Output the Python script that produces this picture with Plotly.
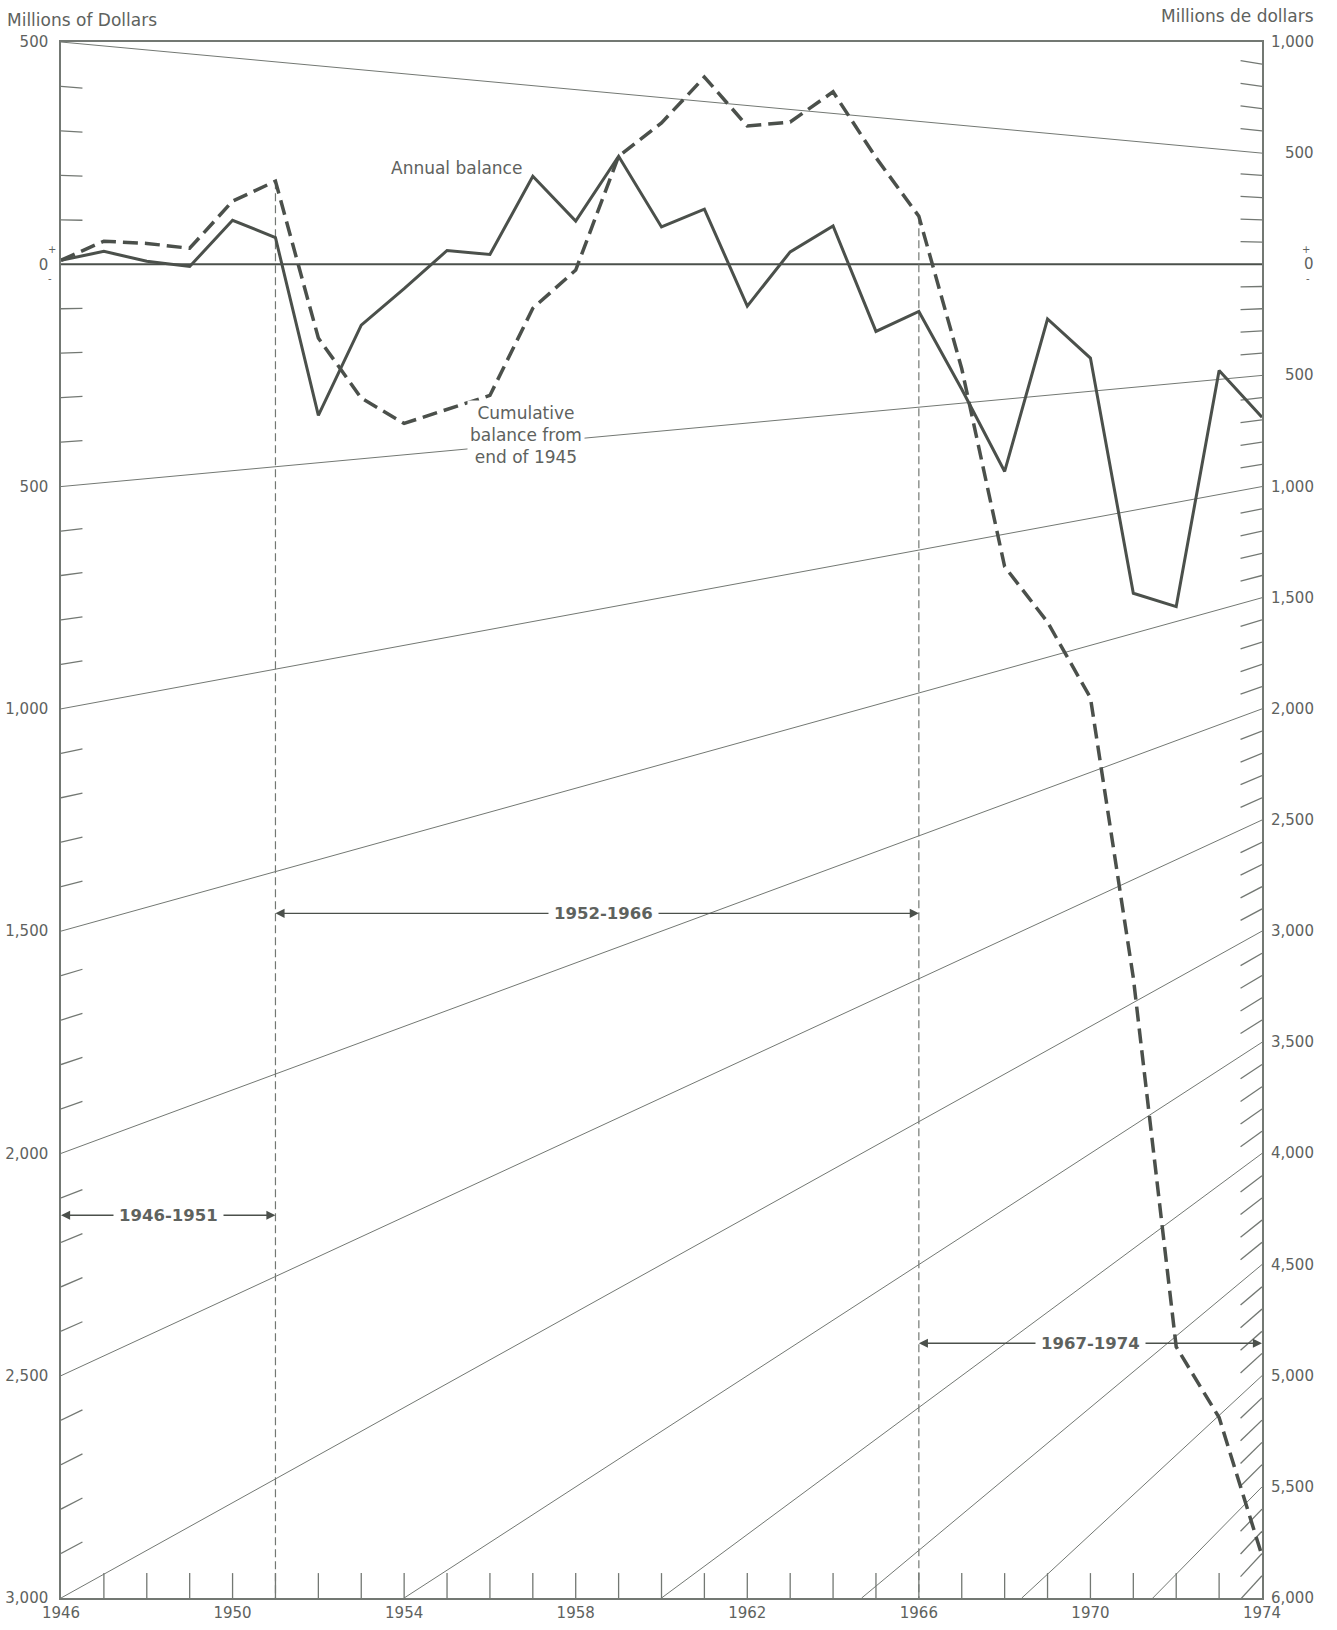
import plotly.graph_objects as go

# ---------------- data ----------------
years = list(range(1946, 1975))
annual_balance = [9, 29, 7, -5, 99, 60, -340, -137, -55, 31, 22, 198, 97, 243,
                  84, 124, -94, 28, 86, -151, -106, -281, -466, -123, -211, -740,
                  -770, -239, -344]
cumulative_balance = [9, 52, 47, 36, 142, 187, -166, -301, -358, -326, -295, -99,
                      -13, 243, 318, 421, 311, 320, 388, 240, 108, -235, -680,
                      -805, -975, -1605, -2435, -2594, -2905]

left_tick_vals = [500, 0, -500, -1000, -1500, -2000, -2500, -3000]
left_tick_text = ["500", "0", "500", "1,000", "1,500", "2,000", "2,500", "3,000"]
right_tick_vals = [1000, 500, 0, -500, -1000, -1500, -2000, -2500, -3000, -3500,
                   -4000, -4500, -5000, -5500, -6000]
right_tick_text = ["1,000", "500", "0", "500", "1,000", "1,500", "2,000", "2,500",
                   "3,000", "3,500", "4,000", "4,500", "5,000", "5,500", "6,000"]
x_tick_vals = [1946, 1950, 1954, 1958, 1962, 1966, 1970, 1974]

# guide (fan) lines: value V on left scale at 1946, value V on right scale at 1974
fan_values = [500, -500, -1000, -1500, -2000, -2500, -3000, -3500, -4000,
              -4500, -5000, -5500, -6000]

period_labels = ["1946-1951", "1952-1966", "1967-1974"]
period_start = [1946, 1951, 1966]
period_end = [1951, 1966, 1974]
period_level = [-2139, -1460, -2427]
period_label_x = [1948.5, 1958.65, 1970.0]

divider_years = [1951, 1966]

# ---------------- geometry helpers ----------------
X0, X1 = 1946, 1974
Y_MIN, Y_MAX = -3000, 500
SPAN = 2 * (X1 - X0)  # right scale is double the left scale


def fan_y(v, x):
    return v * (1 - (x - X0) / SPAN)


LINE = "#4b504b"
THIN = "#737873"
TXT = "#5e625e"
FONT = "DejaVu Sans, Liberation Sans, Arial, sans-serif"

fig = go.Figure()

# fan lines
fx, fy = [], []
for v in fan_values:
    if v < Y_MIN:
        xs = X0 + SPAN * (1 - Y_MIN / v)
    else:
        xs = X0
    fx += [xs, X1, None]
    fy += [fan_y(v, xs), fan_y(v, X1), None]
fig.add_trace(go.Scatter(x=fx, y=fy, mode="lines", line=dict(color=THIN, width=1),
                         hoverinfo="skip", showlegend=False))

# sloped ticks on the left axis (every 100) and right axis (every 100 of right scale)
tx, ty = [], []
TL = 0.5
for v in range(400, Y_MIN, -100):
    if v % 500 == 0:
        continue
    tx += [X0, X0 + TL, None]
    ty += [fan_y(v, X0), fan_y(v, X0 + TL), None]
for r in range(900, -6000, -100):
    if r % 500 == 0:
        continue
    tx += [X1 - TL, X1, None]
    ty += [fan_y(r, X1 - TL), fan_y(r, X1), None]
# vertical year ticks on bottom
for yr in years[1:-1]:
    tx += [yr, yr, None]
    ty += [Y_MIN, Y_MIN + 56, None]
fig.add_trace(go.Scatter(x=tx, y=ty, mode="lines", line=dict(color=THIN, width=1.3),
                         hoverinfo="skip", showlegend=False))

# zero line
fig.add_trace(go.Scatter(x=[X0, X1], y=[0, 0], mode="lines",
                         line=dict(color=LINE, width=2), hoverinfo="skip",
                         showlegend=False))

# vertical dashed dividers
for yr in divider_years:
    fig.add_trace(go.Scatter(x=[yr, yr], y=[cumulative_balance[years.index(yr)], Y_MIN],
                             mode="lines", line=dict(color=THIN, width=1.2, dash="8px,4px"),
                             hoverinfo="skip", showlegend=False))

# data series
fig.add_trace(go.Scatter(x=years, y=cumulative_balance, mode="lines",
                         line=dict(color=LINE, width=3.5, dash="15px,7px"),
                         name="Cumulative balance from end of 1945", showlegend=False))
fig.add_trace(go.Scatter(x=years, y=annual_balance, mode="lines",
                         line=dict(color=LINE, width=3), name="Annual balance",
                         showlegend=False))

# invisible trace to instantiate the right axis
fig.add_trace(go.Scatter(x=[X0], y=[0], yaxis="y2", mode="markers",
                         marker=dict(opacity=0), hoverinfo="skip", showlegend=False))

annotations = []
# period arrows
for lab, s, e, lvl, lx in zip(period_labels, period_start, period_end, period_level,
                              period_label_x):
    for end in (s, e):
        annotations.append(dict(x=end, y=lvl, ax=lx, ay=lvl, xref="x", yref="y",
                                axref="x", ayref="y", text="", showarrow=True,
                                arrowhead=2, arrowsize=1.3, arrowwidth=1.4,
                                arrowcolor=LINE, standoff=0))
    annotations.append(dict(x=lx, y=lvl, xref="x", yref="y", text="<b>%s</b>" % lab,
                            showarrow=False, bgcolor="white", borderpad=5,
                            font=dict(family=FONT, size=16.5, color=TXT)))

# series labels
annotations.append(dict(x=1955.23, y=216, xref="x", yref="y", text="Annual balance",
                        showarrow=False, font=dict(family=FONT, size=17, color=TXT)))
annotations.append(dict(x=1956.83, y=-385, xref="x", yref="y",
                        text="Cumulative<br>balance from<br>end of 1945",
                        showarrow=False, bgcolor="white", borderpad=2,
                        font=dict(family=FONT, size=17, color=TXT)))

# axis titles
annotations.append(dict(x=0, y=1, xref="paper", yref="paper", xanchor="left",
                        yanchor="bottom", xshift=-56, yshift=10,
                        text="Millions of Dollars", showarrow=False,
                        font=dict(family=FONT, size=17, color=TXT)))
annotations.append(dict(x=1, y=1, xref="paper", yref="paper", xanchor="right",
                        yanchor="bottom", xshift=54, yshift=14,
                        text="Millions de dollars", showarrow=False,
                        font=dict(family=FONT, size=17, color=TXT)))

# right scale labels
for v, t in zip(right_tick_vals, right_tick_text):
    annotations.append(dict(x=1, y=v, xref="paper", yref="y2", xanchor="right",
                            xshift=54, text=t, showarrow=False,
                            font=dict(family=FONT, size=15, color=TXT)))

# +/- signs around zero on both axes
for xs in (-15, 50):
    annotations.append(dict(x=0 if xs < 0 else 1, y=0, xref="paper", yref="y",
                            xshift=xs, yshift=15, text="+", showarrow=False,
                            font=dict(family=FONT, size=10, color=TXT)))
    annotations.append(dict(x=0 if xs < 0 else 1, y=0, xref="paper", yref="y",
                            xshift=xs, yshift=-14, text="-", showarrow=False,
                            font=dict(family=FONT, size=10, color=TXT)))

fig.update_layout(
    width=1337, height=1630,
    margin=dict(l=61, r=75, t=42, b=32, autoexpand=False),
    paper_bgcolor="white", plot_bgcolor="white",
    showlegend=False,
    xaxis=dict(range=[X0, X1], tickvals=x_tick_vals, ticks="", showgrid=False,
               zeroline=False, showline=True, mirror=True, linecolor=THIN,
               linewidth=1.5, automargin=False,
               tickfont=dict(family=FONT, size=15, color=TXT)),
    yaxis=dict(range=[Y_MIN, Y_MAX], tickvals=left_tick_vals, ticktext=left_tick_text,
               ticks="", showgrid=False, zeroline=False, showline=True, mirror=True,
               linecolor=THIN, linewidth=1.5, ticklabelstandoff=8, automargin=False,
               tickfont=dict(family=FONT, size=15, color=TXT)),
    yaxis2=dict(range=[-6000, 1000], overlaying="y", side="right",
                showticklabels=False, showgrid=False, zeroline=False, showline=False,
                ticks="", automargin=False),
    annotations=annotations,
)

fig.write_html("out.html")
